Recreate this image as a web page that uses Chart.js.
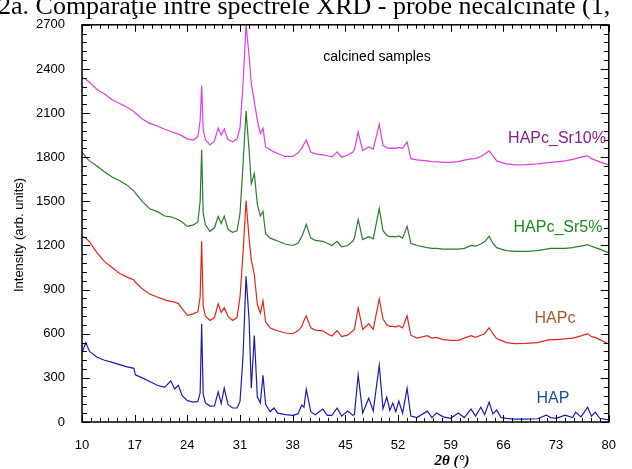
<!DOCTYPE html>
<html>
<head>
<meta charset="utf-8">
<script src="https://cdn.jsdelivr.net/npm/chart.js@4.4.1/dist/chart.umd.min.js"></script>
<style>
  body { margin: 0; background: #fff; }
  #wrap { width: 632px; height: 469px; }
</style>
</head>
<body>
<div id="wrap"><canvas id="xrd" width="632" height="469"></canvas></div>
<script>
// 2theta positions (deg) shared by all four patterns
const twoTheta = [
  10, 10.5, 11, 12, 13, 14, 15, 16, 16.9, 17.1,
  18, 19, 20, 21, 21.8, 22.3, 22.8, 23.3, 24, 24.8,
  25.4, 25.7, 25.9, 26.1, 26.4, 27, 27.6, 28.1, 28.5, 28.9,
  29.4, 30, 30.6, 31, 31.4, 31.8, 32.2, 32.5, 32.9, 33.3,
  33.7, 34.05, 34.4, 35, 35.5, 36, 37, 38, 38.7, 39.2,
  39.5, 39.8, 40.4, 41, 42, 42.6, 43.2, 43.9, 44.5, 45.3,
  46, 46.2, 46.7, 47.3, 48.1, 48.7, 49.5, 50, 50.5, 50.9,
  51.3, 51.7, 52.1, 52.6, 53.2, 53.7, 54.5, 55.9, 56.5, 57.1,
  58, 59, 60, 60.8, 61.7, 62.3, 63, 63.5, 64.1, 64.6,
  65.1, 65.7, 66.4, 67.5, 69, 70.5, 71.7, 72.3, 73, 74.2,
  75.2, 75.6, 76.3, 77.2, 77.7, 78.2, 78.8, 80
];

const hap = [
  470, 540, 480, 440, 420, 405, 390, 375, 365, 320,
  300, 275, 250, 235, 280, 225, 250, 180, 145, 135,
  140, 200, 668, 190, 130, 108, 110, 205, 125, 230,
  120, 95, 95, 140, 450, 990, 700, 230, 587, 170,
  130, 317, 120, 70, 95, 60, 50, 45, 55, 115,
  100, 223, 70, 50, 88, 45, 45, 95, 40, 74,
  45, 50, 320, 60, 162, 75, 385, 90, 169, 80,
  128, 70, 142, 60, 229, 40, 30, 74, 30, 61,
  35, 25, 61, 30, 88, 40, 101, 50, 135, 55,
  81, 30, 25, 20, 20, 22, 47, 30, 25, 47,
  30, 67, 35, 101, 40, 67, 25, 15
];

const hapc = [
  1262, 1250, 1225, 1150, 1090, 1050, 1010, 985, 965, 950,
  905, 870, 850, 830, 820, 815, 805, 770, 725, 735,
  750, 850, 1228, 790, 720, 690, 710, 803, 745, 776,
  720, 690, 710, 850, 1150, 1505, 1250, 1100, 1000, 800,
  740, 823, 680, 640, 628, 620, 605, 600, 620, 650,
  690, 722, 640, 625, 620, 600, 585, 621, 580, 590,
  620, 630, 776, 630, 668, 630, 837, 700, 660, 650,
  650, 645, 655, 640, 722, 590, 570, 587, 570, 575,
  560, 555, 555, 570, 587, 575, 590, 600, 641, 600,
  567, 555, 540, 533, 535, 540, 555, 560, 560, 565,
  570, 575, 585, 601, 580, 575, 560, 530
];

const hapcSr5 = [
  1836, 1800, 1775, 1740, 1700, 1665, 1640, 1610, 1570, 1555,
  1500, 1450, 1430, 1400, 1395, 1385, 1375, 1360, 1330, 1340,
  1360, 1500, 1850, 1420, 1340, 1296, 1320, 1397, 1350, 1400,
  1310, 1290, 1300, 1420, 1750, 2113, 1850, 1620, 1688, 1480,
  1400, 1431, 1280, 1250, 1240, 1230, 1210, 1200, 1215, 1260,
  1300, 1343, 1250, 1235, 1228, 1215, 1200, 1228, 1190, 1200,
  1230, 1250, 1377, 1240, 1260, 1245, 1451, 1300, 1270, 1260,
  1262, 1258, 1265, 1250, 1330, 1215, 1200, 1185, 1180, 1180,
  1175, 1175, 1175, 1180, 1200, 1195, 1210, 1225, 1262, 1215,
  1185, 1175, 1165, 1160, 1160, 1165, 1175, 1180, 1180, 1180,
  1185, 1190, 1195, 1205, 1195, 1185, 1175, 1150
];

const hapcSr10 = [
  2342, 2330, 2310, 2260, 2230, 2190, 2165, 2140, 2110, 2100,
  2060, 2030, 2012, 1990, 1975, 1965, 1958, 1945, 1925, 1917,
  1940, 2050, 2288, 1990, 1920, 1883, 1910, 1998, 1950, 1991,
  1920, 1904, 1925, 2000, 2300, 2700, 2491, 2300, 2180, 2050,
  1960, 1998, 1870, 1850, 1836, 1825, 1805, 1805, 1830, 1860,
  1890, 1917, 1835, 1823, 1816, 1810, 1802, 1836, 1800, 1815,
  1835, 1850, 1971, 1845, 1870, 1855, 2025, 1880, 1865, 1860,
  1862, 1860, 1866, 1860, 1904, 1790, 1782, 1775, 1769, 1770,
  1765, 1765, 1770, 1780, 1789, 1790, 1805, 1820, 1843, 1810,
  1775, 1765, 1755, 1748, 1750, 1755, 1762, 1765, 1768, 1775,
  1785, 1790, 1800, 1809, 1790, 1780, 1768, 1748
];

const xTicks = [10, 17, 24, 31, 38, 45, 52, 59, 66, 73, 80];
const yTicks = [0, 300, 600, 900, 1200, 1500, 1800, 2100, 2400, 2700];

const toPoints = ys => twoTheta.map((t, i) => ({ x: t, y: ys[i] }));

// frame with inward ticks on all four sides, plus the free text
const frameAndLabels = {
  id: 'frameAndLabels',
  afterDraw(chart) {
    const { ctx, chartArea: a, scales: { x, y } } = chart;
    ctx.save();
    ctx.strokeStyle = '#000';
    ctx.lineWidth = 1;
    ctx.beginPath();
    // x: 6 minor steps between labels
    for (let i = 0; i <= 60; i++) {
      const px = Math.round(x.getPixelForValue(10 + i * 7 / 6)) + 0.5;
      const len = i % 6 === 0 ? 7 : 4;
      ctx.moveTo(px, a.bottom); ctx.lineTo(px, a.bottom - len);
      ctx.moveTo(px, a.top); ctx.lineTo(px, a.top + len);
    }
    // y: 5 minor steps between labels
    for (let v = 0; v <= 2700; v += 60) {
      const py = Math.round(y.getPixelForValue(v)) + 0.5;
      const len = v % 300 === 0 ? 8 : 5;
      ctx.moveTo(a.left, py); ctx.lineTo(a.left + len, py);
      ctx.moveTo(a.right, py); ctx.lineTo(a.right - len, py);
    }
    ctx.stroke();
    ctx.lineWidth = 1.5;
    ctx.strokeRect(a.left, a.top, a.right - a.left, a.bottom - a.top);

    // cut-off caption from the page above the figure
    ctx.fillStyle = '#000';
    ctx.textBaseline = 'alphabetic';
    ctx.textAlign = 'left';
    ctx.font = '26px "Liberation Serif", "Times New Roman", serif';
    ctx.fillText('2a. Comparaţie între spectrele XRD - probe necalcinate (1,', -2, 14);

    ctx.textBaseline = 'middle';
    ctx.textAlign = 'center';
    ctx.font = '14px "Liberation Sans", Arial, sans-serif';
    ctx.fillText('calcined samples', 377, 57);

    ctx.font = '16px "Liberation Sans", Arial, sans-serif';
    ctx.fillStyle = '#861f86'; ctx.fillText('HAPc_Sr10%', 557, 139);
    ctx.fillStyle = '#1e8a1e'; ctx.fillText('HAPc_Sr5%', 558, 228);
    ctx.fillStyle = '#a85a26'; ctx.fillText('HAPc', 555, 319);
    ctx.fillStyle = '#1f4e96'; ctx.fillText('HAP', 553, 399);

    ctx.fillStyle = '#000';
    ctx.font = 'italic bold 15px "Liberation Serif", "Times New Roman", serif';
    ctx.fillText('2θ (°)', 452, 461);

    ctx.translate(19, 235);
    ctx.rotate(-Math.PI / 2);
    ctx.font = '13px "Liberation Sans", Arial, sans-serif';
    ctx.fillText('Intensity (arb. units)', 0, 0);
    ctx.restore();
  }
};

const line = (label, ys, color) => ({
  label,
  data: toPoints(ys),
  borderColor: color,
  borderWidth: 1.2,
  pointRadius: 0,
  tension: 0,
  fill: false
});

new Chart(document.getElementById('xrd'), {
  type: 'line',
  data: {
    datasets: [
      line('HAP', hap, '#1c1cb4'),
      line('HAPc', hapc, '#e3261c'),
      line('HAPc_Sr5%', hapcSr5, '#2b7d2b'),
      line('HAPc_Sr10%', hapcSr10, '#e03ce0')
    ]
  },
  options: {
    responsive: false,
    animation: false,
    devicePixelRatio: 1,
    layout: { padding: { top: 22, right: 10, left: 0, bottom: 0 } },
    plugins: {
      legend: { display: false },
      tooltip: { enabled: false }
    },
    scales: {
      x: {
        type: 'linear',
        min: 10,
        max: 80,
        afterBuildTicks: s => { s.ticks = xTicks.map(v => ({ value: v })); },
        afterFit: s => { s.height = 47; },
        grid: { display: false, drawTicks: false },
        border: { display: false },
        ticks: {
          padding: 16,
          color: '#000',
          maxRotation: 0,
          callback: v => String(v),
          font: { family: '"Liberation Sans", Arial, sans-serif', size: 13 }
        }
      },
      y: {
        min: 0,
        max: 2700,
        afterBuildTicks: s => { s.ticks = yTicks.map(v => ({ value: v })); },
        afterFit: s => { s.width = 82; },
        grid: { display: false, drawTicks: false },
        border: { display: false },
        ticks: {
          padding: 17,
          color: '#000',
          callback: v => String(v),
          font: { family: '"Liberation Sans", Arial, sans-serif', size: 13 }
        }
      }
    }
  },
  plugins: [frameAndLabels]
});
</script>
</body>
</html>
